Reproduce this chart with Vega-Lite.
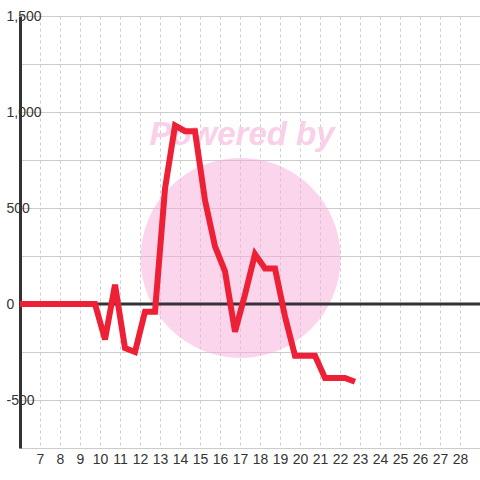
{
  "$schema": "https://vega.github.io/schema/vega-lite/v6.json",
  "width": 460,
  "height": 432,
  "autosize": "none",
  "padding": {"left": 20, "top": 16, "right": 0, "bottom": 32},
  "background": "#ffffff",
  "config": {
    "view": {"stroke": null},
    "font": "Liberation Sans"
  },
  "data": {
    "values": [
      {"x": 6.0, "y": 0},
      {"x": 6.25, "y": 0},
      {"x": 6.75, "y": 0},
      {"x": 7.25, "y": 0},
      {"x": 7.75, "y": 0},
      {"x": 8.25, "y": 0},
      {"x": 8.75, "y": 0},
      {"x": 9.25, "y": 0},
      {"x": 9.75, "y": 0},
      {"x": 10.25, "y": -185},
      {"x": 10.75, "y": 100},
      {"x": 11.25, "y": -230},
      {"x": 11.75, "y": -250},
      {"x": 12.25, "y": -40},
      {"x": 12.75, "y": -40},
      {"x": 13.25, "y": 600},
      {"x": 13.75, "y": 930},
      {"x": 14.25, "y": 900},
      {"x": 14.75, "y": 900},
      {"x": 15.25, "y": 540},
      {"x": 15.75, "y": 300},
      {"x": 16.25, "y": 170},
      {"x": 16.75, "y": -145},
      {"x": 17.25, "y": 50},
      {"x": 17.75, "y": 260},
      {"x": 18.25, "y": 185},
      {"x": 18.75, "y": 185},
      {"x": 19.25, "y": -65},
      {"x": 19.75, "y": -270},
      {"x": 20.25, "y": -270},
      {"x": 20.75, "y": -270},
      {"x": 21.25, "y": -385},
      {"x": 21.75, "y": -385},
      {"x": 22.25, "y": -385},
      {"x": 22.75, "y": -405}
    ]
  },
  "encoding": {
    "x": {
      "field": "x",
      "type": "quantitative",
      "scale": {"domain": [6, 29], "nice": false, "zero": false},
      "axis": {
        "title": null,
        "values": [7, 8, 9, 10, 11, 12, 13, 14, 15, 16, 17, 18, 19, 20, 21, 22, 23, 24, 25, 26, 27, 28],
        "labelOverlap": false,
        "labelSeparation": -20,
        "domain": false,
        "ticks": false,
        "tickSize": 0,
        "labelPadding": 4,
        "labelFontSize": 14,
        "labelColor": "#333333",
        "labelFont": "Liberation Sans",
        "grid": true,
        "gridColor": "#cccccc",
        "gridDash": [3, 3],
        "gridWidth": 1
      }
    },
    "y": {
      "field": "y",
      "type": "quantitative",
      "scale": {"domain": [-750, 1500], "nice": false, "zero": false},
      "axis": {
        "title": null,
        "values": [-750, -500, -250, 0, 250, 500, 750, 1000, 1250, 1500],
        "labelExpr": "datum.value % 500 == 0 ? (datum.value < 0 ? '-' + format(-datum.value, ',') : format(datum.value, ',')) : ''",
        "labelOverlap": false,
        "domain": true,
        "domainColor": "#333333",
        "domainWidth": 3,
        "ticks": false,
        "tickSize": 0,
        "labelAlign": "left",
        "labelPadding": 14,
        "labelFontSize": 14,
        "labelColor": "#333333",
        "labelFont": "Liberation Sans",
        "grid": true,
        "gridColor": "#cccccc",
        "gridWidth": 1
      }
    }
  },
  "layer": [
    {
      "data": {"values": [{"x": 17.03, "y": 240}]},
      "mark": {"type": "point", "shape": "circle", "filled": true, "size": 40000, "color": "#F7ABD9", "opacity": 0.5, "strokeWidth": 0}
    },
    {
      "data": {"values": [{"x": 17.1, "y": 828, "label": "Powered by"}]},
      "mark": {"type": "text", "fontSize": 33, "fontWeight": "bold", "fontStyle": "italic", "color": "#FAD0E9", "baseline": "alphabetic", "align": "center", "font": "Liberation Sans"},
      "encoding": {
        "text": {"field": "label"}
      }
    },
    {
      "data": {"values": [{"x": 6, "y": 0}, {"x": 29, "y": 0}]},
      "mark": {"type": "line", "color": "#333333", "strokeWidth": 3}
    },
    {
      "mark": {"type": "line", "color": "#EE2036", "strokeWidth": 6, "strokeJoin": "miter", "clip": true}
    }
  ]
}
